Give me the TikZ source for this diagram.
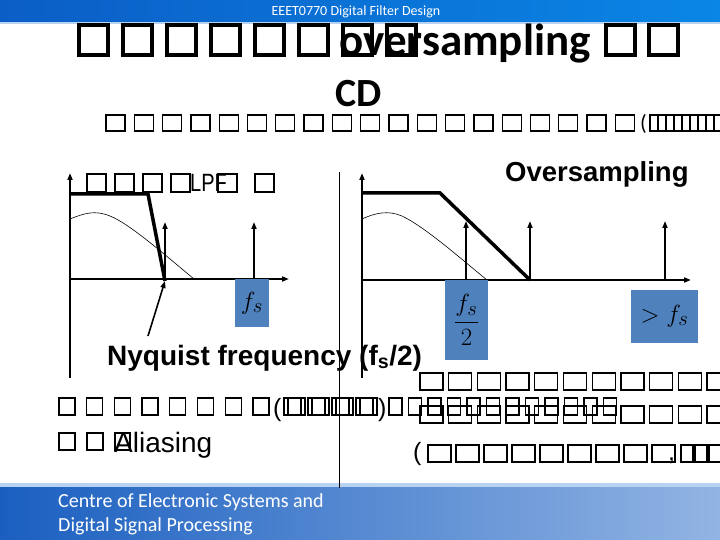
\documentclass[tikz,border=0pt]{standalone}
\usepackage{fontspec}
\setmainfont{Carlito}
\newfontfamily\arialfont{Liberation Sans}
\usetikzlibrary{arrows.meta}

\definecolor{boxblue}{HTML}{4F81BD}
\definecolor{headleft}{HTML}{0B5EC6}
\definecolor{headright}{HTML}{0A86E6}
\definecolor{footleft}{HTML}{1A5FC0}
\definecolor{footright}{HTML}{92B4E3}
\definecolor{edgeblue}{HTML}{B8D2F2}

\tikzset{
  tofu/.style={draw=black,line width=1.3pt},
  bigtofu/.style={draw=black,line width=4.5pt},
  axisline/.style={line width=2pt,->},
  pulse/.style={line width=1.6pt,->},
  lpf/.style={line width=3.5pt,line join=miter},
  spectrum/.style={line width=0.6pt},
  mathbox/.style={fill=boxblue},
  bandtext/.style={text=white,anchor=base west,inner sep=0pt}
}

\begin{document}
\begin{tikzpicture}[x=1pt,y=-1pt,>={Triangle[length=7pt,width=5pt]}]
			\useasboundingbox (0,0) rectangle (720,540);
			\fill[white] (0,0) rectangle (720,540);
			% header and footer bands
			\shade[left color=headleft,right color=headright] (0,0) rectangle (720,22);
			\fill[edgeblue] (0,22) rectangle (720,24);
			\node[text=white,font=\fontsize{14}{14}\selectfont] (header) at (356,12) {EEET0770 Digital Filter Design};
			\fill[edgeblue] (0,483) rectangle (720,488);
			\shade[left color=footleft,right color=footright] (0,487) rectangle (720,540);
			\node[bandtext,font=\fontsize{20}{20}\selectfont] (foot1) at (58,507) {Centre of Electronic Systems and};
			\node[bandtext,font=\fontsize{20}{20}\selectfont] (foot2) at (58,531) {Digital Signal Processing};
			% title
			\foreach \i in {0,...,7}
				\draw[bigtofu] ({79+\i*44},25) rectangle ++(29,30);
			\foreach \i in {0,1}
				\draw[bigtofu] ({606+\i*43},25) rectangle ++(29,30);
			\node[anchor=base west,inner sep=0pt,font=\fontsize{45}{45}\selectfont\bfseries] (title) at (339,56) {oversampling};
			\node[anchor=base west,inner sep=0pt,font=\fontsize{40}{40}\selectfont\bfseries] (cd) at (335,107) {CD};
			\foreach \i in {0,...,18}
				\draw[tofu] ({106+\i*28.3},115) rectangle ++(19,16);
			\node[anchor=base west,inner sep=0pt,font=\fontsize{22}{22}\selectfont] (paren1) at (640,131) {(};
			\draw[tofu] (650,115) rectangle (722,131);
			\foreach \i in {0,...,8}
				\draw[tofu] ({658+\i*8},115) -- ++(0,16);
			% left spectrum
			\draw[spectrum] (70,219) .. controls (85,213) and (95,210) .. (110,216) .. controls (130,224) and (165,255) .. (194,279);
			\draw[axisline] (70,378) -- (70,173);
			\draw[axisline] (70,279) -- (289,279);
			\draw[lpf] (70,194) -- (148,194) -- (165,281);
			\draw[pulse] (165,279) -- (165,222);
			\draw[pulse] (254,279) -- (254,222);
			\coordinate (nyq) at (165,281);
			\coordinate (ptr) at (148,336);
			\draw[line width=1.6pt,->] (ptr) -- (nyq);
			\fill[mathbox] (235,279) rectangle (269,327);
			\node[font=\fontsize{30}{30}\selectfont] (fsleft) at (252,303) {$f_s$};
			\foreach \x in {87,115,143,171,218,255}
				\draw[tofu] (\x,174) rectangle ++(19,18);
			\node[anchor=base west,inner sep=0pt,xscale=0.8,font=\arialfont\fontsize{25}{25}\selectfont] (lpflabel) at (190,192) {LPF};
			% separator
			\draw[line width=0.8pt] (339,172) -- (339,488);
			% right spectrum
			\draw[spectrum] (362,219) .. controls (375,213) and (388,210) .. (402,216) .. controls (425,227) and (460,258) .. (487,280);
			\draw[axisline] (362,378) -- (362,173);
			\draw[axisline] (362,280) -- (691,280);
			\draw[lpf] (362,193) -- (440,193) -- (530,280);
			\draw[pulse] (466,280) -- (466,221);
			\draw[pulse] (530,280) -- (530,221);
			\draw[pulse] (665,280) -- (665,221);
			\fill[mathbox] (445,280) rectangle (488,360);
			\node[font=\fontsize{28}{28}\selectfont] (fshalf) at (466.5,320) {$\displaystyle\frac{f_s}{2}$};
			\fill[mathbox] (631,290) rectangle (698,343);
			\node[font=\fontsize{29}{29}\selectfont] (fsover) at (664.5,316) {$>f_s$};
			\node[anchor=base west,inner sep=0pt,font=\arialfont\fontsize{27.5}{27.5}\selectfont\bfseries] (over) at (505,182) {Oversampling};
			% labels below
			\node[anchor=base west,inner sep=0pt,font=\arialfont\fontsize{28}{28}\selectfont\bfseries] (nyqlabel) at (107,365) {Nyquist frequency (f\textsubscript{s}/2)};
			\foreach \i in {0,...,7}
				\draw[tofu] ({59+\i*27.7},398) rectangle ++(16,17);
			\node[anchor=base west,inner sep=0pt,font=\arialfont\fontsize{25}{25}\selectfont] (paren2) at (273,416) {(};
			\foreach \i in {0,...,3} {
				\draw[tofu] ({284+\i*24},398) rectangle ++(21,17);
				\draw[tofu] ({288+\i*24},398) rectangle ++(13,17);
			}
			\node[anchor=base west,inner sep=0pt,font=\arialfont\fontsize{25}{25}\selectfont] (paren3) at (378,416) {)};
			\foreach \i in {0,...,11}
				\draw[tofu] ({389+\i*19.5},398) rectangle ++(13,17);
			\foreach \i in {0,1}
				\draw[tofu] ({59+\i*28},433) rectangle ++(16,17);
			\draw[tofu] (115,433) rectangle ++(15,17);
			\node[anchor=base west,inner sep=0pt,font=\arialfont\fontsize{28}{28}\selectfont] (alias) at (114,452) {Aliasing};
			\foreach \i in {0,...,10} {
				\draw[tofu] ({420+\i*28.7},373) rectangle ++(23,17);
				\draw[tofu] ({420+\i*28.7},406) rectangle ++(23,17);
			}
			\node[anchor=base west,inner sep=0pt,font=\arialfont\fontsize{25}{25}\selectfont] (paren4) at (413,460) {(};
			\foreach \i in {0,...,8}
				\draw[tofu] ({428+\i*28},445) rectangle ++(23,17);
			\node[anchor=base west,inner sep=0pt,font=\arialfont\fontsize{25}{25}\selectfont] (comma) at (668,460) {,};
			\foreach \i in {0,1,2}
				\draw[tofu] ({681+\i*14},445) rectangle ++(12,17);
\end{tikzpicture}
\end{document}
